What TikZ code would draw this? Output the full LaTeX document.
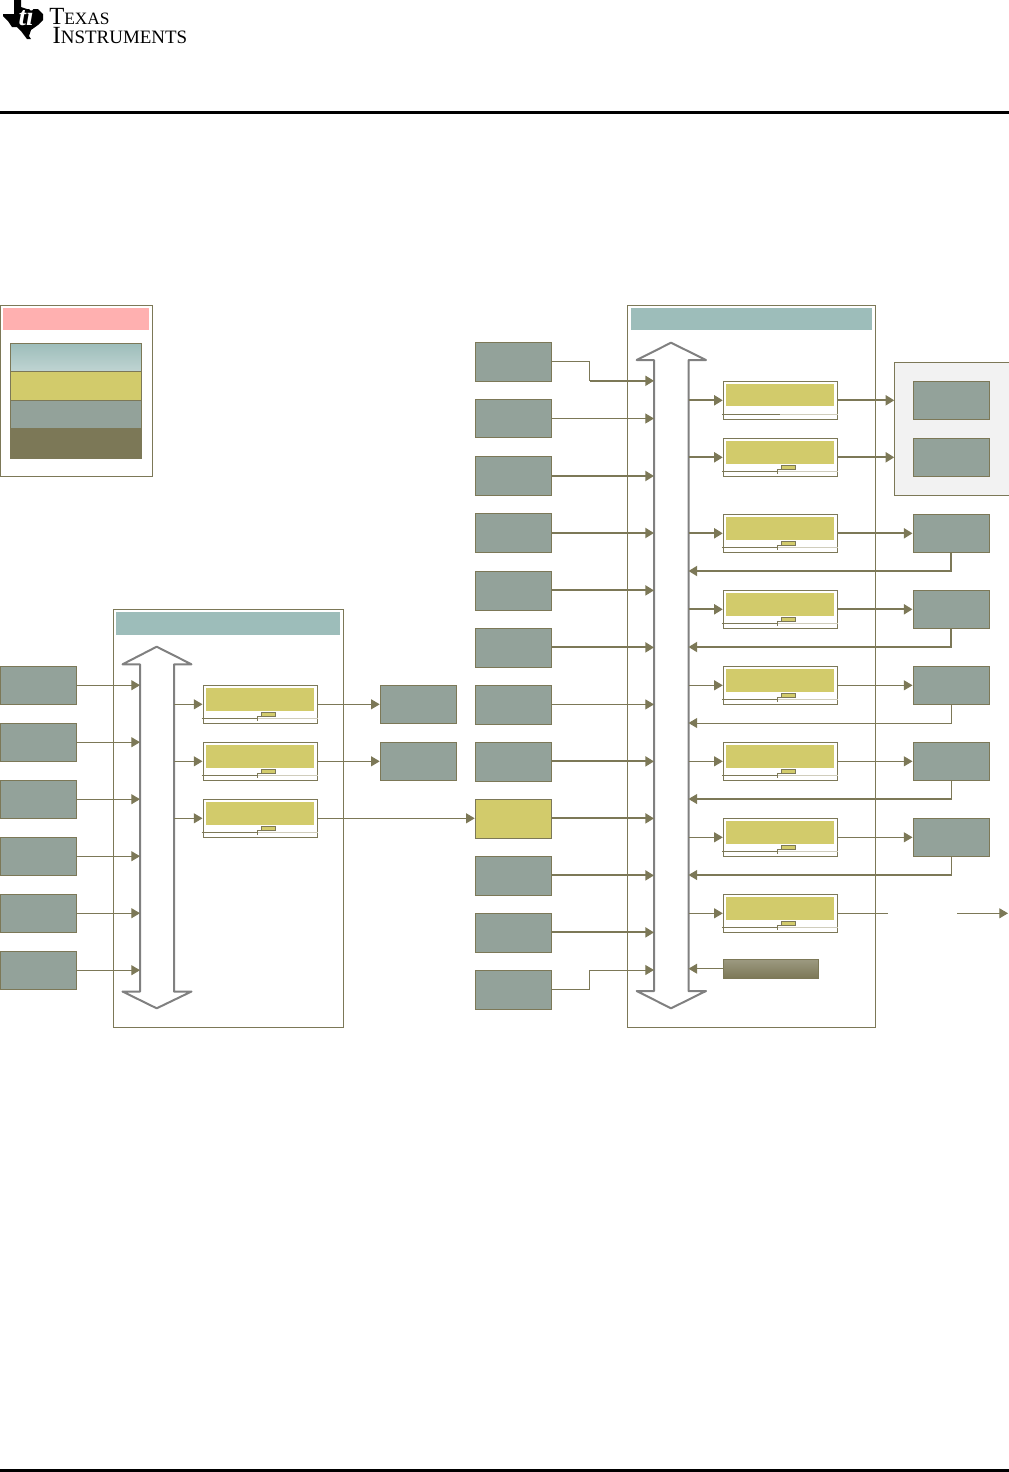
\documentclass[tikz,border=0pt]{standalone}
\usepackage{fontspec}
\setmainfont{Liberation Serif}
\usepackage{xcolor}
\usepackage{tikz}
\usetikzlibrary{arrows.meta}
\definecolor{tiOlive}{HTML}{7C7857}
\definecolor{tiGray}{HTML}{93A29A}
\definecolor{tiYellow}{HTML}{D2CB6B}
\definecolor{tiTeal}{HTML}{9DBDBA}
\definecolor{tiPink}{HTML}{FFB0B0}
\definecolor{tiBus}{HTML}{808080}
\definecolor{tiPale}{HTML}{D0CDBC}
\definecolor{tiGroup}{HTML}{F2F2F2}

\begin{document}
\begin{tikzpicture}[
    x=0.75pt, y=-0.75pt,
    frame/.style={rectangle, draw=tiOlive, line width=0.75pt, inner sep=0pt},
    header/.style={rectangle, fill=tiTeal, inner sep=0pt},
    block/.style={rectangle, draw=tiOlive, fill=tiGray, line width=0.75pt, inner sep=0pt,
                  minimum width=57.4pt, minimum height=28.5pt},
    tallblock/.style={block, minimum height=29pt},
    periph/.style={rectangle, draw=tiOlive, fill=white, line width=0.75pt, inner sep=0pt,
                   minimum width=85.5pt, minimum height=28.5pt},
    swatch/.style={rectangle, draw=tiOlive, line width=0.75pt, inner sep=0pt,
                   minimum width=98.25pt},
    bus/.style={draw=tiBus, fill=white, line width=1.5pt, line join=round},
    thinwire/.style={-{Triangle[length=6.5pt, width=7.5pt]}, draw=tiOlive, line width=0.75pt},
    thickwire/.style={-{Triangle[length=6.5pt, width=7.5pt]}, draw=tiOlive, line width=1.5pt},
    thinplain/.style={draw=tiOlive, line width=0.75pt},
    periphbar/.pic={
        \fill[tiYellow] (3,3) rectangle (111,26);
        \draw[tiPale, line width=0.75pt] (54,33.3) -- (115,33.3);
        \draw[tiOlive, line width=0.75pt] (-1,33.3) -- (54.5,33.3);
        \draw[tiOlive, line width=0.6pt] (54.5,36) -- (54.5,31.5) -- (58,31.5);
        \draw[tiOlive, fill=tiYellow, line width=0.6pt] (59,28) rectangle (73,31.3);
    },
    periphplain/.pic={
        \fill[tiYellow] (3,3) rectangle (111,25);
        \draw[tiPale, line width=0.75pt] (57,33.3) -- (115,33.3);
        \draw[tiOlive, line width=0.75pt] (-1,33.3) -- (57,33.3);
    },
]
\useasboundingbox (0,0) rectangle (1009,1472);
% logo and page rules
\fill[black] (14,0) -- (21,0) -- (21,7) -- (27,9) -- (38,9) -- (43,14) -- (43,20) -- (38,25)
    -- (31,30) -- (29,36) -- (31,39) -- (27,39) -- (21,31) -- (17,27) -- (12,27) -- (8,21)
    -- (3,16) -- (3,14) -- (14,14) -- cycle;
\node[white, inner sep=0pt, font=\fontsize{20}{20}\selectfont\bfseries\itshape] (logomark) at (26,16) {ti};
\node[anchor=base west, inner sep=0pt, align=left, font=\fontsize{18.5}{14.25}\selectfont] (logotext) at (49,43)
    {T{\fontsize{13}{13}\selectfont EXAS}\\\hspace*{2.6pt}I{\fontsize{14.2}{14}\selectfont NSTRUMENTS}};
\draw[black, line width=2.25pt] (0,112.3) -- (1009,112.3);
\draw[black, line width=2.25pt] (0,1470.5) -- (1009,1470.5);

% legend
\node[frame, minimum width=114pt, minimum height=128pt] (legend) at (76.5,390.7) {};
\node[rectangle, fill=tiPink, inner sep=0pt, minimum width=109.5pt, minimum height=16.5pt] (legendhead) at (76,319) {};
\node[swatch, top color=tiTeal, bottom color=tiTeal!65!white, minimum height=21pt] (swatchA) at (76,357.2) {};
\node[swatch, fill=tiYellow, minimum height=21.5pt] (swatchB) at (76,385.7) {};
\node[swatch, fill=tiGray, minimum height=21pt] (swatchC) at (76,414) {};
\node[swatch, fill=tiOlive, minimum height=22.5pt] (swatchD) at (76,443) {};

% left domain
\node[frame, minimum width=172.5pt, minimum height=313.5pt] (leftdom) at (228.5,818) {};
\node[header, minimum width=168pt, minimum height=17.25pt] (lefthead) at (228,623.5) {};
\draw[bus] (140,664.3) -- (122.5,664.3) -- (156.7,646.7) -- (191.5,664.3) -- (174,664.3)
    -- (174,991.5) -- (191.5,991.5) -- (156.7,1008.3) -- (122.5,991.5) -- (140,991.5) -- cycle;
\coordinate (lbusW) at (140,828);
\coordinate (lbusE) at (174,828);

\node[block] (initA) at (38.5,685.2) {};
\node[block] (initB) at (38.5,742.2) {};
\node[block] (initC) at (38.5,799.2) {};
\node[block] (initD) at (38.5,856.2) {};
\node[block] (initE) at (38.5,913.2) {};
\node[block] (initF) at (38.5,970.2) {};
\draw[thinwire] (initA) -- (initA -| lbusW);
\draw[thinwire] (initB) -- (initB -| lbusW);
\draw[thinwire] (initC) -- (initC -| lbusW);
\draw[thinwire] (initD) -- (initD -| lbusW);
\draw[thinwire] (initE) -- (initE -| lbusW);
\draw[thinwire] (initF) -- (initF -| lbusW);

\node[periph] (lperA) at (260,704.3) {};
\node[periph] (lperB) at (260,761.3) {};
\node[periph] (lperC) at (260,818.3) {};
\pic at (lperA.north west) {periphbar};
\pic at (lperB.north west) {periphbar};
\pic at (lperC.north west) {periphbar};
\draw[thinwire] (lperA -| lbusE) -- (lperA);
\draw[thinwire] (lperB -| lbusE) -- (lperB);
\draw[thinwire] (lperC -| lbusE) -- (lperC);

\node[block] (targA) at (418.5,704.3) {};
\node[block] (targB) at (418.5,761.3) {};
\draw[thinwire] (lperA) -- (targA);
\draw[thinwire] (lperB) -- (targB);

% right domain
\node[frame, minimum width=186pt, minimum height=541.5pt] (rightdom) at (751.5,666.3) {};
\node[header, minimum width=180.75pt, minimum height=16.5pt] (righthead) at (751.5,319) {};
\draw[bus] (654,360) -- (636.7,360) -- (671,342.7) -- (706,360) -- (688.5,360)
    -- (688.5,991) -- (706,991) -- (671,1008.3) -- (636.7,991) -- (654,991) -- cycle;
\coordinate (rbusW) at (654,680);
\coordinate (rbusE) at (688.5,680);

\node[tallblock] (srcA) at (513.5,361.8) {};
\node[tallblock] (srcB) at (513.5,418.5) {};
\node[tallblock] (srcC) at (513.5,476) {};
\node[tallblock] (srcD) at (513.5,533) {};
\node[tallblock] (srcE) at (513.5,590.8) {};
\node[tallblock] (srcF) at (513.5,647.8) {};
\node[tallblock] (srcG) at (513.5,704.8) {};
\node[tallblock] (srcH) at (513.5,761.8) {};
\node[tallblock, fill=tiYellow] (srcI) at (513.5,818.8) {};
\node[tallblock] (srcJ) at (513.5,875.8) {};
\node[tallblock] (srcK) at (513.5,932.8) {};
\node[tallblock] (srcL) at (513.5,989.8) {};
\coordinate (jogA) at (589.5,380.8);
\coordinate (jogL) at (589.5,970);
\draw[thinplain] (srcA) -| (jogA);
\draw[thickwire] (jogA) -- (jogA -| rbusW);
\draw[thinwire] (srcB) -- (srcB -| rbusW);
\draw[thickwire] (srcC) -- (srcC -| rbusW);
\draw[thickwire] (srcD) -- (srcD -| rbusW);
\draw[thickwire] ([yshift=0.3pt]srcE.east) -- ([yshift=0.3pt]srcE.east -| rbusW);
\draw[thickwire] ([yshift=0.3pt]srcF.east) -- ([yshift=0.3pt]srcF.east -| rbusW);
\draw[thinwire] ([yshift=0.3pt]srcG.east) -- ([yshift=0.3pt]srcG.east -| rbusW);
\draw[thickwire] ([yshift=0.3pt]srcH.east) -- ([yshift=0.3pt]srcH.east -| rbusW);
\draw[thickwire] ([yshift=0.3pt]srcI.east) -- ([yshift=0.3pt]srcI.east -| rbusW);
\draw[thickwire] ([yshift=0.3pt]srcJ.east) -- ([yshift=0.3pt]srcJ.east -| rbusW);
\draw[thickwire] ([yshift=0.3pt]srcK.east) -- ([yshift=0.3pt]srcK.east -| rbusW);
\draw[thinplain] (srcL) -| (jogL);
\draw[thinwire] (jogL) -- (jogL -| rbusW);
\draw[thinwire] (lperC) -- (lperC -| srcI.west);

\node[periph] (rperA) at (780.3,400.3) {};
\node[periph] (rperB) at (780.3,457.3) {};
\node[periph] (rperC) at (780.3,533.3) {};
\node[periph] (rperD) at (780.3,609.3) {};
\node[periph] (rperE) at (780.3,685.3) {};
\node[periph] (rperF) at (780.3,761.3) {};
\node[periph] (rperG) at (780.3,837.3) {};
\node[periph] (rperH) at (780.3,913.3) {};
\pic at (rperA.north west) {periphplain};
\pic at (rperB.north west) {periphbar};
\pic at (rperC.north west) {periphbar};
\pic at (rperD.north west) {periphbar};
\pic at (rperE.north west) {periphbar};
\pic at (rperF.north west) {periphbar};
\pic at (rperG.north west) {periphbar};
\pic at (rperH.north west) {periphbar};
\draw[thickwire] (rperA -| rbusE) -- (rperA);
\draw[thickwire] (rperB -| rbusE) -- (rperB);
\draw[thickwire] (rperC -| rbusE) -- (rperC);
\draw[thickwire] (rperD -| rbusE) -- (rperD);
\draw[thinwire] (rperE -| rbusE) -- (rperE);
\draw[thinwire] (rperF -| rbusE) -- (rperF);
\draw[thinwire] (rperG -| rbusE) -- (rperG);
\draw[thinwire] (rperH -| rbusE) -- (rperH);

\node[rectangle, draw=tiOlive, fill=tiGroup, line width=0.75pt, inner sep=0pt, anchor=north west,
      minimum width=87pt, minimum height=99.75pt] (memgroup) at (894.3,362.3) {};
\node[block] (memA) at (951.3,400.3) {};
\node[block] (memB) at (951.3,457.3) {};
\draw[thickwire] (rperA) -- (rperA -| memgroup.west);
\draw[thickwire] (rperB) -- (rperB -| memgroup.west);

\node[block] (pinC) at (951.3,533.3) {};
\node[block] (pinD) at (951.3,609.3) {};
\node[block] (pinE) at (951.3,685.3) {};
\node[block] (pinF) at (951.3,761.3) {};
\node[block] (pinG) at (951.3,837.3) {};
\draw[thickwire] (rperC) -- (pinC);
\draw[thickwire] (rperD) -- (pinD);
\draw[thinwire] (rperE) -- (pinE);
\draw[thinwire] (rperF) -- (pinF);
\draw[thinwire] (rperG) -- (pinG);
\coordinate (backC) at (688.5,571);
\coordinate (backD) at (688.5,647);
\coordinate (backE) at (688.5,723);
\coordinate (backF) at (688.5,799);
\coordinate (backG) at (688.5,875);
\draw[thickwire] (pinC.south) |- (backC);
\draw[thickwire] (pinD.south) |- (backD);
\draw[thinwire] (pinE.south) |- (backE);
\draw[thinwire, line width=0.9pt] (pinF.south) |- (backF);
\draw[thinwire, line width=0.9pt] (pinG.south) |- (backG);

% last output runs off the page
\coordinate (outstop) at (888,913.3);
\coordinate (outstart) at (957,913.3);
\coordinate (outend) at (1008,913.3);
\draw[thinplain] (rperH) -- (outstop);
\draw[thinwire] (outstart) -- (outend);

\node[rectangle, draw=tiOlive, line width=0.75pt, inner sep=0pt, top color=tiOlive!75!white, bottom color=tiOlive,
      minimum width=71.25pt, minimum height=14.25pt] (bootmaster) at (771,968.7) {};
\draw[thinwire] (bootmaster) -- (bootmaster -| rbusE);
\end{tikzpicture}
\end{document}
